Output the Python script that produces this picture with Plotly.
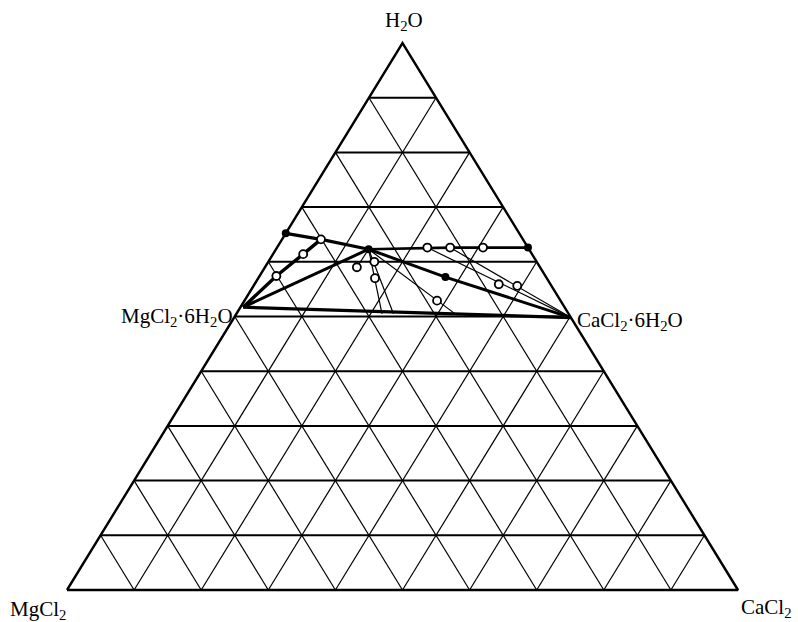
import plotly.graph_objects as go

# Compositions in weight percent, given as (H2O, CaCl2); MgCl2 makes up the balance.
grid_levels = [10, 20, 30, 40, 50, 60, 70, 80, 90]

# Solubility curve of MgCl2·6H2O: binary point -> liquid -> invariant point
mg_curve_h2o = [65.2, 64.1, 62.3]
mg_curve_cacl2 = [0.0, 5.8, 13.8]

# Solubility curve of CaCl2·6H2O: invariant point -> liquids -> binary point
ca_curve_h2o = [62.3, 62.6, 62.6, 62.6, 62.6]
ca_curve_cacl2 = [13.8, 22.4, 25.8, 30.7, 37.4]

# Solid hydrates
hydrate_names = ["MgCl2·6H2O", "CaCl2·6H2O"]
hydrate_h2o = [51.7, 49.8]
hydrate_cacl2 = [0.4, 50.2]

# Extra liquid point on the invariant -> CaCl2·6H2O line
extra_liquid_h2o = [57.2]
extra_liquid_cacl2 = [27.8]

# Wet residues
residue_h2o = [61.4, 57.4, 60.0, 59.0, 57.0, 52.9, 55.9, 55.6]
residue_cacl2 = [4.5, 2.5, 15.8, 13.7, 17.4, 28.7, 36.4, 39.3]

# Ends of the invariant-point tie lines on the MgCl2·6H2O–CaCl2·6H2O join
tie_end_h2o = [50.5, 50.5, 50.3]
tie_end_cacl2 = [23.4, 21.7, 32.9]


def to_xy(h2o, cacl2):
    """Map a ternary composition (percent) to plane coordinates."""
    y = h2o / 100.0
    x = cacl2 / 100.0 + y / 2.0
    return x, y


def path(h2o_list, cacl2_list):
    xs, ys = [], []
    for h, c in zip(h2o_list, cacl2_list):
        x, y = to_xy(h, c)
        xs.append(x)
        ys.append(y)
    return xs, ys


fig = go.Figure()

# ---- grid ----
hx, hy, dx, dy = [], [], [], []
for lv in grid_levels:
    t = lv / 100.0
    # constant H2O
    hx += [t / 2, 1 - t / 2, None]
    hy += [t, t, None]
    # constant CaCl2
    dx += [t, t + (1 - t) / 2, None]
    dy += [0, 1 - t, None]
    # constant MgCl2
    dx += [1 - t, (1 - t) / 2, None]
    dy += [0, 1 - t, None]

fig.add_trace(go.Scatter(x=dx, y=dy, mode="lines",
                         line=dict(color="black", width=1.2), hoverinfo="skip"))
fig.add_trace(go.Scatter(x=hx, y=hy, mode="lines",
                         line=dict(color="black", width=2), hoverinfo="skip"))
fig.add_trace(go.Scatter(x=[0, 1, 0.5, 0], y=[0, 0, 1, 0], mode="lines",
                         line=dict(color="black", width=2.4), hoverinfo="skip"))

M6 = (hydrate_h2o[0], hydrate_cacl2[0])
C6 = (hydrate_h2o[1], hydrate_cacl2[1])
E = (mg_curve_h2o[-1], mg_curve_cacl2[-1])
P2 = (mg_curve_h2o[1], mg_curve_cacl2[1])


def seg(points, width):
    xs, ys = path([p[0] for p in points], [p[1] for p in points])
    fig.add_trace(go.Scatter(x=xs, y=ys, mode="lines",
                             line=dict(color="black", width=width),
                             hoverinfo="skip"))


# thin tie lines
liq_a = (ca_curve_h2o[1], ca_curve_cacl2[1])
liq_b = (ca_curve_h2o[2], ca_curve_cacl2[2])
seg([liq_a, C6], 1.2)
seg([liq_b, C6], 1.2)
for h, c in zip(tie_end_h2o, tie_end_cacl2):
    seg([E, (h, c)], 1.2)
seg([E, (residue_h2o[3], residue_cacl2[3])], 1.2)

# heavy lines
seg(list(zip(mg_curve_h2o, mg_curve_cacl2)), 3.2)
seg([M6, (residue_h2o[1], residue_cacl2[1]), (residue_h2o[0], residue_cacl2[0]), P2], 3.4)
seg([M6, E], 3)
seg([M6, C6], 3.2)
seg([E, (extra_liquid_h2o[0], extra_liquid_cacl2[0]), C6], 3)
seg(list(zip(ca_curve_h2o, ca_curve_cacl2)), 2.6)

# ---- points ----
filled_h = [mg_curve_h2o[0], E[0], ca_curve_h2o[-1], extra_liquid_h2o[0]]
filled_c = [mg_curve_cacl2[0], E[1], ca_curve_cacl2[-1], extra_liquid_cacl2[0]]
fx, fy = path(filled_h, filled_c)
fig.add_trace(go.Scatter(x=fx, y=fy, mode="markers",
                         marker=dict(color="black", size=8), hoverinfo="skip"))

open_h = [P2[0]] + ca_curve_h2o[1:4] + residue_h2o
open_c = [P2[1]] + ca_curve_cacl2[1:4] + residue_cacl2
ox, oy = path(open_h, open_c)
fig.add_trace(go.Scatter(x=ox, y=oy, mode="markers",
                         marker=dict(color="white", size=8,
                                     line=dict(color="black", width=1.8)),
                         hoverinfo="skip"))

# ---- labels ----
W, H = 798, 622
font = dict(family="Liberation Serif, Times New Roman, serif", size=21, color="black")


def label(text, px, py, xanchor):
    fig.add_annotation(text=text, x=px / W, y=1 - py / H, xref="paper", yref="paper",
                       xanchor=xanchor, yanchor="middle", showarrow=False, font=font)


label("H<sub>2</sub>O", 404, 21, "center")
label("MgCl<sub>2</sub>·6H<sub>2</sub>O", 235, 317, "right")
label("CaCl<sub>2</sub>·6H<sub>2</sub>O", 575, 321, "left")
label("MgCl<sub>2</sub>", 8, 610, "left")
label("CaCl<sub>2</sub>", 739, 608, "left")

# axis ranges: corner MgCl2 at (67, 590) px, CaCl2 at (738, 590) px, H2O apex at y=43 px
sx = 671.0
sy = 547.0
x0 = -67.0 / sx
y0 = -(H - 590.0) / sy
fig.update_layout(
    width=W, height=H, autosize=False,
    margin=dict(l=0, r=0, t=0, b=0),
    paper_bgcolor="white", plot_bgcolor="white",
    showlegend=False,
    xaxis=dict(range=[x0, x0 + W / sx], visible=False, fixedrange=True),
    yaxis=dict(range=[y0, y0 + H / sy], visible=False, fixedrange=True),
)

fig.write_html("out.html")
